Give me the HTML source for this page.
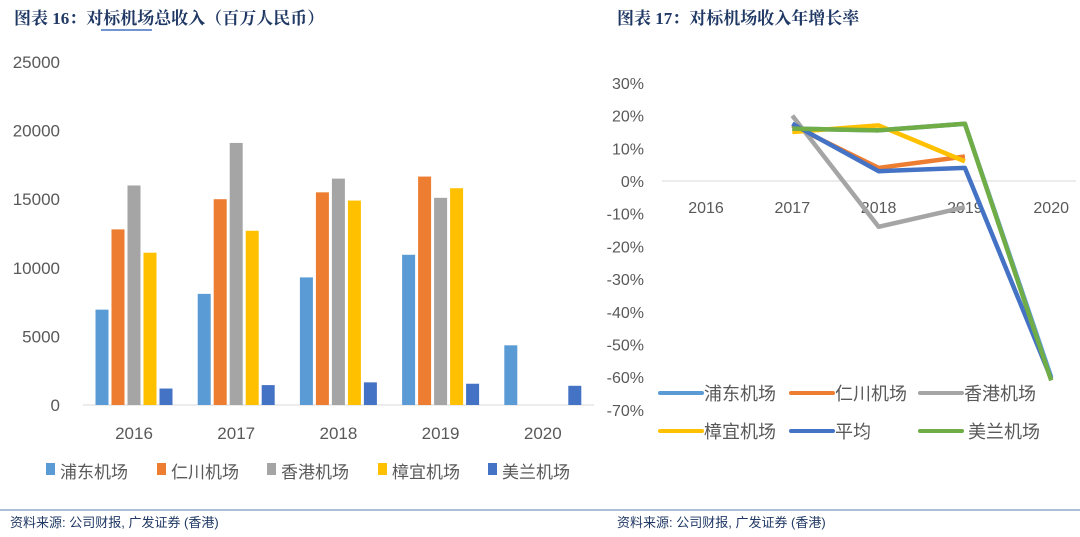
<!DOCTYPE html>
<html><head><meta charset="utf-8"><style>
body{margin:0;background:#fff;width:1080px;height:537px;overflow:hidden;font-family:"Liberation Sans","Noto Sans CJK SC",sans-serif}
svg{position:absolute;left:0;top:0}
</style></head><body>
<svg id="c" width="1080" height="537">
<text x="14" y="24" font-family="Liberation Serif,Noto Serif CJK SC,serif" font-weight="bold" font-size="17" fill="#1f3864">图表 16：对标机场总收入（百万人民币）</text>
<line x1="101" y1="30" x2="152" y2="30" stroke="#4472c4" stroke-width="1.5"/>
<text x="617" y="24" font-family="Liberation Serif,Noto Serif CJK SC,serif" font-weight="bold" font-size="17" fill="#1f3864">图表 17：对标机场收入年增长率</text>
<line x1="0" y1="510" x2="1080" y2="510" stroke="#8eaacb" stroke-width="1.5"/>
<text x="10" y="527" font-size="13" fill="#1f3864">资料来源: 公司财报, 广发证券 (香港)</text>
<text x="617" y="527" font-size="13" fill="#1f3864">资料来源: 公司财报, 广发证券 (香港)</text>
</svg>
<script>
const years=["2016","2017","2018","2019","2020"];
const barSeries=["浦东机场","仁川机场","香港机场","樟宜机场","美兰机场"];
const pudong=[6950,8100,9300,10950,4350];
const incheon=[12800,15000,15500,16650,null];
const hongkong=[16000,19100,16500,15100,null];
const changi=[11100,12700,14900,15800,null];
const meilan=[1200,1450,1650,1550,1400];
const barTicks=[0,5000,10000,15000,20000,25000];

const lineSeries=["浦东机场","仁川机场","香港机场","樟宜机场","平均","美兰机场"];
const gPudong=[null,16,15.5,17.5,-60];
const gIncheon=[null,17,4,7.5,null];
const gHongkong=[null,20,-14,-8,null];
const gChangi=[null,15,17,6,null];
const gAvg=[null,17.5,3,4,-60.5];
const gMeilan=[null,16,15.5,17.5,-61];
const pctTicks=[30,20,10,0,-10,-20,-30,-40,-50,-60,-70];

const svg=document.getElementById('c');
const NS='http://www.w3.org/2000/svg';
function mk(t,a){const e=document.createElementNS(NS,t);for(const k in a)e.setAttribute(k,a[k]);svg.appendChild(e);return e;}
const barColors=["#5b9bd5","#ed7d31","#a5a5a5","#ffc000","#4472c4"];
const bx=i=>134+i*102.2;
const by=v=>405-v*343/25000;
barTicks.forEach(t=>{const e=mk('text',{x:60,y:by(t)+6,'text-anchor':'end','font-size':17,fill:'#595959'});e.textContent=t;

});
const ax=mk('line',{x1:83,y1:405,x2:594,y2:405,stroke:'#d9d9d9'});


years.forEach((y,i)=>{const e=mk('text',{x:bx(i),y:439,'text-anchor':'middle','font-size':17,fill:'#595959'});e.textContent=y;

});
[pudong,incheon,hongkong,changi,meilan].forEach((s,j)=>{s.forEach((v,i)=>{if(v==null)return;
const r=mk('rect',{x:bx(i)+(j-2)*16-6.5,y:by(v),width:13,height:405-by(v),fill:barColors[j]});

});});
const lx=[46,157,267,378,488];
barSeries.forEach((n,j)=>{const r=mk('rect',{x:lx[j],y:463,width:9,height:12,fill:barColors[j]});


const t=mk('text',{x:lx[j]+14,y:478,'font-size':17,fill:'#595959'});t.textContent=n;

});
const lineColors=["#5b9bd5","#ed7d31","#a5a5a5","#ffc000","#4472c4","#70ad47"];
const px=i=>706+i*86.3;
const py=v=>181-v*3.27;
pctTicks.forEach(t=>{const e=mk('text',{x:644,y:py(t)+6,'text-anchor':'end','font-size':16,fill:'#595959'});e.textContent=t+'%';

});
const ax2=mk('line',{x1:662,y1:181,x2:1076,y2:181,stroke:'#d9d9d9'});


years.forEach((y,i)=>{const e=mk('text',{x:px(i),y:213,'text-anchor':'middle','font-size':16,fill:'#595959'});e.textContent=y;

});
const all=[gPudong,gIncheon,gHongkong,gChangi,gAvg,gMeilan];
[0,1,2,3,4,5].forEach(j=>{const s=all[j];const pts=[];s.forEach((v,i)=>{if(v!=null)pts.push(px(i)+','+py(v));});
const p=mk('polyline',{points:pts.join(' '),fill:'none',stroke:lineColors[j],'stroke-width':4.5,'stroke-linejoin':'round'});

});
const legPos=[[660,393],[791,393],[920,393],[660,431],[791,431],[920,431]];
lineSeries.forEach((n,j)=>{const [x,y]=legPos[j];
const l=mk('line',{x1:x,y1:y,x2:x+42,y2:y,stroke:lineColors[j],'stroke-width':4,'stroke-linecap':'round'});


const t=mk('text',{x:x+(j==5?48:44),y:y+7,'font-size':18,fill:'#595959'});t.textContent=n;

});
</script>
</body></html>
